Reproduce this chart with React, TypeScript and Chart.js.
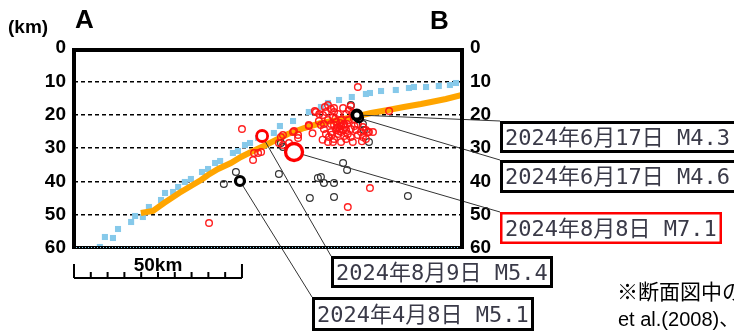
import React, { useEffect, useRef } from "react";
import { Chart, registerables } from "chart.js";

Chart.register(...registerables);

// distance along profile A-B (km), depth (km)
const blueBoundary: [number, number][] = [
  [7.7, 59.7], [9.2, 56.7], [11.6, 57.0], [13.1, 54.3], [17.0, 52.2], [18.2, 50.4],
  [20.5, 50.7], [22.3, 47.7], [25.9, 45.6], [27.1, 43.5], [29.5, 43.2], [31.0, 41.7],
  [33.0, 40.2], [34.8, 39.3], [38.1, 37.2], [39.9, 36.3], [42.0, 34.5], [43.5, 33.9],
  [47.3, 31.5], [48.8, 30.9], [50.9, 29.1], [52.4, 28.5], [54.8, 27.0], [56.3, 26.4],
  [59.5, 25.5], [61.3, 23.4], [65.2, 21.9], [69.9, 19.2], [73.5, 17.7], [75.6, 16.5],
  [78.9, 15.6], [82.7, 14.7], [86.9, 13.8], [88.1, 13.5], [91.4, 12.9], [95.8, 12.6],
  [99.7, 12.0], [101.2, 11.7], [104.8, 11.7], [108.6, 11.4], [111.9, 11.1], [113.7, 10.5],
];

const orangeBoundary: [number, number][] = [
  [19.9, 49.5], [23.5, 48.9], [26.8, 46.5], [31.3, 43.5], [34.8, 41.4], [37.8, 39.6],
  [39.9, 38.1], [42.9, 36.3], [46.7, 34.5], [49.7, 32.7], [52.7, 31.2], [56.5, 29.4],
  [59.5, 27.9], [63.7, 25.8], [68.5, 24.0], [73.5, 22.5], [78.6, 21.6], [83.3, 20.7],
  [88.4, 19.5], [93.5, 18.6], [98.2, 17.7], [103.3, 16.8], [106.3, 16.2], [110.7, 15.3],
  [115.5, 14.1],
];

const redQuakes: [number, number][] = [
  [71.7, 18.9], [74.7, 17.7], [75.6, 17.1], [76.5, 18.3], [77.4, 18.0], [75.0, 19.2],
  [74.1, 20.1], [80.1, 18.0], [82.4, 17.4], [81.8, 18.6], [81.0, 19.8], [78.6, 19.8],
  [77.1, 20.7], [75.6, 21.6], [74.4, 22.8], [73.5, 23.1], [76.5, 22.8], [78.0, 22.2],
  [79.5, 21.6], [80.4, 22.8], [81.8, 21.6], [83.3, 21.3], [84.5, 22.8], [86.0, 23.7],
  [86.9, 24.6], [87.8, 25.2], [85.4, 25.2], [83.9, 24.6], [82.4, 24.3], [81.0, 24.6],
  [79.5, 25.2], [78.0, 24.6], [76.5, 25.2], [75.0, 25.8], [74.4, 24.3], [75.9, 26.7],
  [77.4, 27.3], [79.5, 28.2], [81.0, 27.3], [82.4, 26.7], [84.5, 26.1], [86.0, 26.7],
  [83.0, 28.2], [77.1, 28.2], [75.6, 28.2], [80.1, 23.1], [78.6, 23.7], [77.4, 23.1],
  [69.9, 23.1], [72.9, 21.9], [65.5, 24.9], [66.7, 26.1], [79.2, 24.3], [81.5, 25.8],
  [78.6, 25.8], [84.5, 11.7], [72.0, 19.2], [77.4, 19.2], [93.8, 18.9], [69.9, 23.4],
  [65.2, 25.2], [62.2, 26.1], [61.0, 28.5], [64.0, 28.5], [66.7, 27.0], [53.6, 31.5],
  [55.7, 31.2], [50.0, 24.3], [87.5, 25.2], [89.0, 25.2], [86.9, 27.3], [53.3, 33.6],
  [54.8, 31.5], [61.6, 26.7], [62.2, 29.1], [88.1, 42.0], [81.5, 47.7], [40.2, 52.5],
  [78.3, 24.0], [79.5, 23.4], [80.1, 24.6], [78.9, 24.9], [80.7, 23.7], [81.3, 22.8],
  [79.2, 22.5], [76.8, 26.0], [80.4, 26.4], [83.5, 23.4], [77.8, 21.2], [74.0, 27.5],
  [85.7, 28.0], [71.0, 25.6], [73.0, 19.8], [83.0, 19.5],
];

const blackQuakes: [number, number][] = [
  [48.2, 37.2], [44.6, 40.8], [61.0, 37.8], [61.6, 28.5], [62.2, 29.7], [80.1, 34.5],
  [81.3, 36.6], [72.6, 39.0], [73.5, 38.7], [74.4, 40.5], [77.4, 40.5], [70.2, 45.0],
  [77.4, 44.7], [99.4, 44.4], [82.4, 17.1], [86.0, 22.8], [86.3, 24.6], [87.8, 28.2],
];

const eventNames = [
  "2024年6月17日 M4.6",
  "2024年6月17日 M4.3",
  "2024年8月8日 M7.1",
  "2024年8月9日 M5.4",
  "2024年4月8日 M5.1",
];
const eventX = [84.8, 84.2, 65.5, 56.0, 49.4];
const eventDepth = [21.0, 20.1, 31.2, 26.4, 39.9];
const eventColors = ["#000000", "#000000", "#ff0000", "#ff0000", "#000000"];

const depthTicks = [0, 10, 20, 30, 40, 50, 60];
const scaleBarKm = 50;

// annotation box layout (pixels), same order as events
const boxLayout = [
  { x: 500, y: 160, w: 264, h: 33, lw: 3, c: "#000" },
  { x: 500, y: 121, w: 264, h: 32, lw: 3, c: "#000" },
  { x: 500, y: 212, w: 222, h: 32, lw: 2.5, c: "#ff0000" },
  { x: 331, y: 256, w: 222, h: 32, lw: 3, c: "#000" },
  { x: 312, y: 297, w: 222, h: 34, lw: 3, c: "#000" },
];
const eventRadius = [4, 4.5, 8.5, 5.5, 4.5];
const eventBorder = [2.5, 3.8, 3.3, 2.8, 3.2];

const overlay = {
  id: "overlay",
  beforeDatasetDraw(chart: any, args: any) {
    if (args.index !== 0) return;
    const ctx = chart.ctx;
    const xs = chart.scales.x;
    const ys = chart.scales.y;
    ctx.save();
    ctx.strokeStyle = "#333";
    ctx.lineWidth = 1;
    eventNames.forEach((_, i) => {
      const px = xs.getPixelForValue(eventX[i]);
      const py = ys.getPixelForValue(eventDepth[i]);
      const b = boxLayout[i];
      ctx.beginPath();
      ctx.moveTo(px, py);
      ctx.lineTo(b.x, b.y);
      ctx.stroke();
    });
    ctx.restore();
  },
  afterDraw(chart: any) {
    const ctx = chart.ctx;
    const a = chart.chartArea;
    const xs = chart.scales.x;
    ctx.save();
    // frame
    ctx.strokeStyle = "#000";
    ctx.lineWidth = 4;
    ctx.lineCap = "butt";
    ctx.beginPath();
    ctx.moveTo(a.left, a.bottom);
    ctx.lineTo(a.left, a.top + 2);
    ctx.lineTo(a.right, a.top + 2);
    ctx.lineTo(a.right, a.bottom);
    ctx.stroke();
    ctx.lineWidth = 3;
    ctx.beginPath();
    ctx.moveTo(a.left - 2, a.bottom - 0.5);
    ctx.lineTo(a.right + 2, a.bottom - 0.5);
    ctx.stroke();
    ctx.strokeStyle = "#8fd0ee";
    ctx.lineWidth = 1;
    ctx.setLineDash([1, 2]);
    ctx.beginPath();
    ctx.moveTo(a.left + 2, a.bottom - 0.5);
    ctx.lineTo(a.right - 2, a.bottom - 0.5);
    ctx.stroke();
    ctx.setLineDash([]);

    // scale bar
    const x0 = xs.getPixelForValue(0);
    const x1 = xs.getPixelForValue(scaleBarKm);
    const sy = 278;
    ctx.strokeStyle = "#000";
    ctx.lineWidth = 2;
    ctx.beginPath();
    ctx.moveTo(x0, sy);
    ctx.lineTo(x1, sy);
    for (let k = 0; k <= 10; k++) {
      const tx = xs.getPixelForValue((scaleBarKm / 10) * k);
      ctx.moveTo(tx, sy);
      ctx.lineTo(tx, k === 0 || k === 10 ? sy - 14 : sy - 6);
    }
    ctx.stroke();
    ctx.fillStyle = "#000";
    ctx.font = "bold 19px 'Liberation Sans', Arial, sans-serif";
    ctx.textAlign = "center";
    ctx.textBaseline = "alphabetic";
    ctx.fillText(scaleBarKm + "km", (x0 + x1) / 2, 271);

    // labels
    ctx.textAlign = "left";
    ctx.font = "bold 19px 'Liberation Sans', Arial, sans-serif";
    ctx.fillText("(km)", 8, 33);
    ctx.font = "bold 26px 'Liberation Sans', Arial, sans-serif";
    ctx.fillText("A", 75, 28);
    ctx.fillText("B", 430, 29);

    // boxes
    eventNames.forEach((name, i) => {
      const b = boxLayout[i];
      ctx.fillStyle = "#fff";
      ctx.fillRect(b.x, b.y, b.w, b.h);
      ctx.strokeStyle = b.c;
      ctx.lineWidth = b.lw;
      ctx.strokeRect(b.x + b.lw / 2, b.y + b.lw / 2, b.w - b.lw, b.h - b.lw);
      ctx.fillStyle = "#3a3a48";
      ctx.font = "22px 'DejaVu Sans Mono', 'Noto Sans CJK JP', monospace";
      ctx.textAlign = "left";
      ctx.textBaseline = "middle";
      ctx.fillText(name, b.x + 5, b.y + b.h / 2 + 2);
    });

    // footnote
    ctx.fillStyle = "#000";
    ctx.textBaseline = "alphabetic";
    ctx.font = "21px 'Noto Sans CJK JP', sans-serif";
    ctx.fillText("※断面図中の", 617, 299);
    ctx.font = "20px 'Liberation Sans', Arial, 'Noto Sans CJK JP', sans-serif";
    ctx.fillText("et al.(2008)、", 618, 326);
    ctx.restore();
  },
};

export default function App() {
  const ref = useRef<HTMLCanvasElement | null>(null);
  useEffect(() => {
    if (!ref.current) return;
    const tickFont = { family: "'Liberation Sans', Arial, sans-serif", size: 19, weight: "bold" as const };
    const chart = new Chart(ref.current, {
      type: "scatter",
      data: {
        datasets: [
          {
            label: "events",
            data: eventX.map((x, i) => ({ x, y: eventDepth[i] })),
            pointRadius: eventRadius,
            pointBorderWidth: eventBorder,
            pointBorderColor: eventColors,
            pointBackgroundColor: "#ffffff",
            order: 1,
          },
          {
            label: "red",
            data: redQuakes.map(([x, y]) => ({ x, y })),
            pointRadius: 3.3,
            pointBorderWidth: 1.4,
            pointBorderColor: "rgba(255,20,20,0.95)",
            pointBackgroundColor: "rgba(0,0,0,0)",
            order: 2,
          },
          {
            label: "black",
            data: blackQuakes.map(([x, y]) => ({ x, y })),
            pointRadius: 3.4,
            pointBorderWidth: 1.2,
            pointBorderColor: "#333333",
            pointBackgroundColor: "rgba(0,0,0,0)",
            order: 3,
          },
          {
            label: "orange",
            data: orangeBoundary.map(([x, y]) => ({ x, y })),
            showLine: true,
            borderColor: "#ffa500",
            borderWidth: 6,
            borderJoinStyle: "miter",
            pointRadius: 0,
            order: 4,
          },
          {
            label: "blue",
            data: blueBoundary.map(([x, y]) => ({ x, y })),
            pointStyle: "rect",
            pointRadius: 4.3,
            pointBorderWidth: 0,
            pointBackgroundColor: "#86c9ea",
            pointBorderColor: "#86c9ea",
            order: 5,
          },
        ],
      },
      options: {
        animation: false,
        responsive: false,
        devicePixelRatio: 1,
        layout: { padding: { top: 48, bottom: 83, left: 0, right: 0 } },
        plugins: { legend: { display: false }, tooltip: { enabled: false } },
        scales: {
          x: { type: "linear", min: 0, max: 115.5, display: false },
          y: {
            type: "linear",
            reverse: true,
            min: 0,
            max: 60,
            position: "left",
            afterFit: (s: any) => { s.width = 74; },
            afterBuildTicks: (s: any) => { s.ticks = depthTicks.map((v) => ({ value: v })); },
            ticks: { font: tickFont, color: "#000", padding: 8 },
            grid: {
              drawTicks: false,
              color: (c: any) => (c.tick && (c.tick.value === 0 || c.tick.value === 60) ? "rgba(0,0,0,0)" : "#000"),
              lineWidth: 1.5,
            },
            border: { display: false, dash: [4, 3] },
          },
          y2: {
            type: "linear",
            reverse: true,
            min: 0,
            max: 60,
            position: "right",
            afterFit: (s: any) => { s.width = 272; },
            afterBuildTicks: (s: any) => { s.ticks = depthTicks.map((v) => ({ value: v })); },
            ticks: { font: tickFont, color: "#000", padding: 8 },
            grid: { display: false, drawTicks: false },
            border: { display: false },
          },
        },
      },
      plugins: [overlay],
    });
    return () => chart.destroy();
  }, []);
  return (
    <div style={{ position: "fixed", left: 0, top: 0, width: 734, height: 331, background: "#fff" }}>
      <canvas ref={ref} width={734} height={331} style={{ display: "block" }} />
    </div>
  );
}
